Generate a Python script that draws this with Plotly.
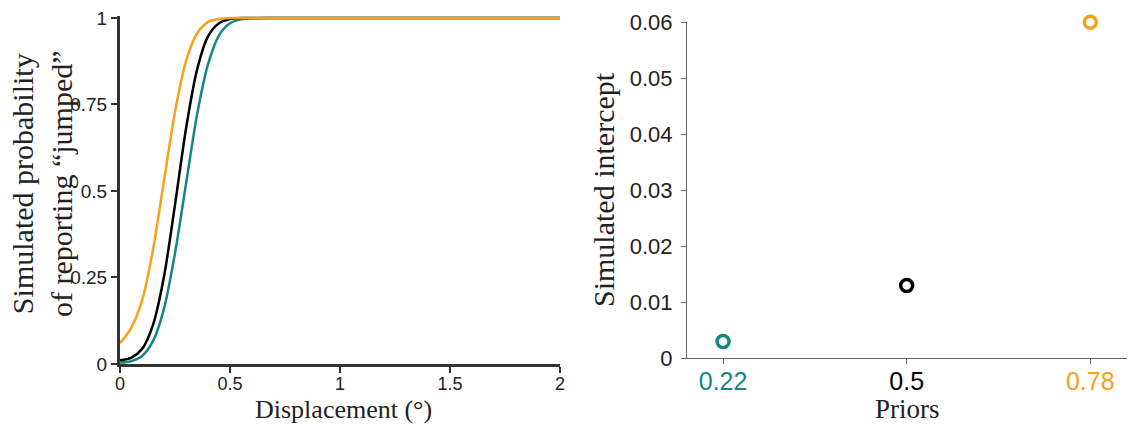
import plotly.graph_objects as go

# ---- Data ----
displacement = [0, 0.05, 0.1, 0.15, 0.2, 0.25, 0.3, 0.35, 0.4, 0.45, 0.5, 0.55, 0.6, 0.7, 0.8, 1.0, 1.5, 2.0]
prob_022 = [0.004, 0.008, 0.023, 0.066, 0.16, 0.32, 0.52, 0.72, 0.866, 0.95, 0.985, 0.996, 0.999, 1.0, 1.0, 1.0, 1.0, 1.0]
prob_050 = [0.011, 0.018, 0.043, 0.113, 0.253, 0.46, 0.68, 0.85, 0.947, 0.985, 0.997, 1.0, 1.0, 1.0, 1.0, 1.0, 1.0, 1.0]
prob_078 = [0.06, 0.103, 0.183, 0.33, 0.53, 0.728, 0.875, 0.955, 0.988, 0.997, 1.0, 1.0, 1.0, 1.0, 1.0, 1.0, 1.0, 1.0]

priors = [0.22, 0.5, 0.78]
prior_labels = ["0.22", "0.5", "0.78"]
intercepts = [0.003, 0.013, 0.06]

x_ticks = [0, 0.5, 1, 1.5, 2]
x_ticktext = ["0", "0.5", "1", "1.5", "2"]
y_ticks = [0, 0.25, 0.5, 0.75, 1]
y_ticktext = ["0", "0.25", "0.5", "0.75", "1"]
yr_ticks = [0, 0.01, 0.02, 0.03, 0.04, 0.05, 0.06]
yr_ticktext = ["0", "0.01", "0.02", "0.03", "0.04", "0.05", "0.06"]

TEAL = "#16877f"
BLACK = "#000000"
ORANGE = "#f7a11a"
colors = [TEAL, BLACK, ORANGE]

W, H = 1134, 425
SERIF = "Liberation Serif, Times New Roman, serif"
SANS = "Liberation Sans, Arial, sans-serif"
TXT = "#222222"

fig = go.Figure()

for ys, c in zip([prob_022, prob_050, prob_078], colors):
    fig.add_trace(go.Scatter(x=displacement, y=ys, mode="lines",
                             line=dict(color=c, width=2.5, shape="spline", smoothing=0.8),
                             xaxis="x", yaxis="y", showlegend=False, hoverinfo="skip"))

fig.add_trace(go.Scatter(x=priors, y=intercepts, mode="markers",
                         marker=dict(symbol="circle-open", size=12, color=colors,
                                     line=dict(width=3.5, color=colors)),
                         cliponaxis=False, xaxis="x2", yaxis="y2", showlegend=False))

right_ticktext = [f"<span style='color:{c}'>{t}</span>" for t, c in zip(prior_labels, colors)]

common = dict(showgrid=False, zeroline=False, automargin=False, ticks="outside")

fig.update_layout(
    width=W, height=H,
    margin=dict(l=0, r=0, t=0, b=0, autoexpand=False),
    paper_bgcolor="white", plot_bgcolor="white",
    xaxis=dict(domain=[120 / W, 560 / W], range=[0, 2], tickvals=x_ticks, ticktext=x_ticktext,
               showline=True, linecolor="#333333", linewidth=3, ticklen=6,
               tickwidth=2, tickcolor="#333333", ticklabelstandoff=-5,
               tickfont=dict(family=SANS, size=18, color=TXT), anchor="y", **common),
    yaxis=dict(domain=[61 / H, (H - 15.9) / H], range=[0, 1.006], tickvals=y_ticks, ticktext=y_ticktext,
               showline=True, linecolor="#333333", linewidth=3, ticklen=6,
               tickwidth=2, tickcolor="#333333",
               tickfont=dict(family=SANS, size=19, color=TXT), anchor="x", **common),
    xaxis2=dict(domain=[687 / W, 1127 / W], range=[0.165, 0.836], tickvals=priors, ticktext=right_ticktext,
                showline=True, linecolor="#666666", linewidth=1, ticklen=5,
                tickwidth=1, tickcolor="#666666", ticklabelstandoff=-4,
                tickfont=dict(family=SANS, size=25, color=TXT), anchor="y2", **common),
    yaxis2=dict(domain=[66.7 / H, (H - 22.3) / H], range=[0, 0.06], tickvals=yr_ticks, ticktext=yr_ticktext,
                showline=True, linecolor="#666666", linewidth=1, ticklen=5,
                tickwidth=1, tickcolor="#666666", ticklabelstandoff=4,
                tickfont=dict(family=SANS, size=22, color=TXT), anchor="x2", **common),
)

def title(text, x, y, angle=0, size=28, yanchor="middle"):
    fig.add_annotation(text=text, xref="paper", yref="paper", x=x / W, y=1 - y / H,
                       xanchor="center", yanchor=yanchor, showarrow=False, textangle=angle,
                       font=dict(family=SERIF, size=size, color=TXT), borderpad=0)

title("Displacement (°)", 343, 425, size=26, yanchor="bottom")
title("Simulated probability<br>of reporting “jumped”", 42, 184, -90, 30)
title("Priors", 907, 425, size=27, yanchor="bottom")
title("Simulated intercept", 604, 190, -90, 30)

fig.write_html("out.html")
